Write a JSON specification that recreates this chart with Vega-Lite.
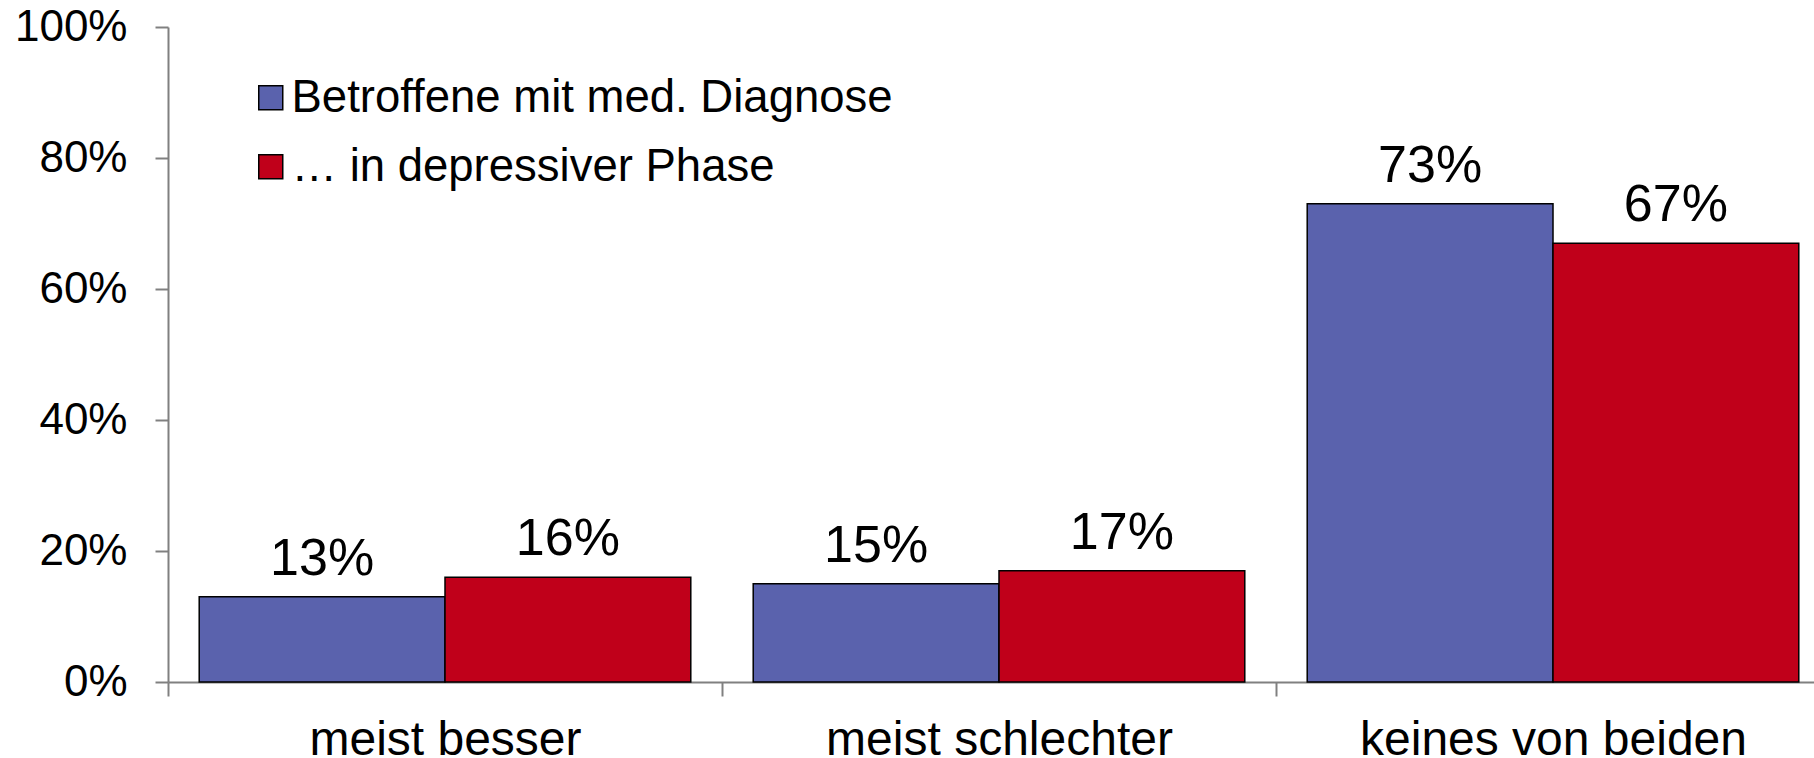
{
  "$schema": "https://vega.github.io/schema/vega-lite/v6.json",
  "width": 1646,
  "height": 655,
  "autosize": {"type": "none"},
  "padding": {"left": 168, "top": 27, "right": 0, "bottom": 76},
  "background": "white",
  "data": {
    "values": [
      {"kategorie": "meist besser", "gruppe": "Betroffene mit med. Diagnose", "wert": 0.13},
      {"kategorie": "meist besser", "gruppe": "… in depressiver Phase", "wert": 0.16},
      {"kategorie": "meist schlechter", "gruppe": "Betroffene mit med. Diagnose", "wert": 0.15},
      {"kategorie": "meist schlechter", "gruppe": "… in depressiver Phase", "wert": 0.17},
      {"kategorie": "keines von beiden", "gruppe": "Betroffene mit med. Diagnose", "wert": 0.73},
      {"kategorie": "keines von beiden", "gruppe": "… in depressiver Phase", "wert": 0.67}
    ]
  },
  "encoding": {
    "x": {
      "field": "kategorie",
      "type": "nominal",
      "sort": ["meist besser", "meist schlechter", "keines von beiden"],
      "scale": {"range": [0, 1662], "paddingInner": 0, "paddingOuter": 0},
      "axis": {
        "title": null,
        "labelAngle": 0,
        "tickBand": "extent",
        "domainColor": "#808080",
        "domainWidth": 2,
        "tickColor": "#808080",
        "tickWidth": 2,
        "tickSize": 14,
        "labelFont": "Liberation Sans",
        "labelFontSize": 48,
        "labelColor": "black",
        "labelLimit": 0,
        "labelPadding": 20
      }
    },
    "xOffset": {
      "field": "gruppe",
      "sort": ["Betroffene mit med. Diagnose", "… in depressiver Phase"],
      "scale": {"paddingInner": 0, "paddingOuter": 0.127}
    },
    "y": {
      "field": "wert",
      "type": "quantitative",
      "scale": {"domain": [0, 1]},
      "axis": {
        "title": null,
        "values": [0, 0.2, 0.4, 0.6, 0.8, 1],
        "format": ".0%",
        "grid": false,
        "domainColor": "#808080",
        "domainWidth": 2,
        "tickColor": "#808080",
        "tickWidth": 2,
        "tickSize": 13,
        "labelFont": "Liberation Sans",
        "labelFontSize": 44,
        "labelColor": "black",
        "labelPadding": 28
      }
    }
  },
  "layer": [
    {
      "mark": {"type": "bar", "stroke": "black", "strokeWidth": 1.5},
      "encoding": {
        "color": {
          "field": "gruppe",
          "type": "nominal",
          "scale": {
            "domain": ["Betroffene mit med. Diagnose", "… in depressiver Phase"],
            "range": ["#5A62AD", "#C0001A"]
          },
          "legend": {
            "title": null,
            "orient": "none",
            "legendX": 80,
            "legendY": 48,
            "padding": 0,
            "symbolType": "square",
            "symbolSize": 576,
            "symbolStrokeColor": "black",
            "symbolStrokeWidth": 1.5,
            "symbolOpacity": 1,
            "labelFont": "Liberation Sans",
            "labelFontSize": 45.5,
            "labelColor": "black",
            "labelOffset": -2,
            "labelLimit": 1000,
            "rowPadding": 22
          }
        }
      }
    },
    {
      "mark": {
        "type": "text",
        "baseline": "alphabetic",
        "dy": -22,
        "fontSize": 52,
        "font": "Liberation Sans",
        "color": "black"
      },
      "encoding": {
        "text": {"field": "wert", "type": "quantitative", "format": ".0%"}
      }
    }
  ],
  "config": {"view": {"stroke": null}}
}
